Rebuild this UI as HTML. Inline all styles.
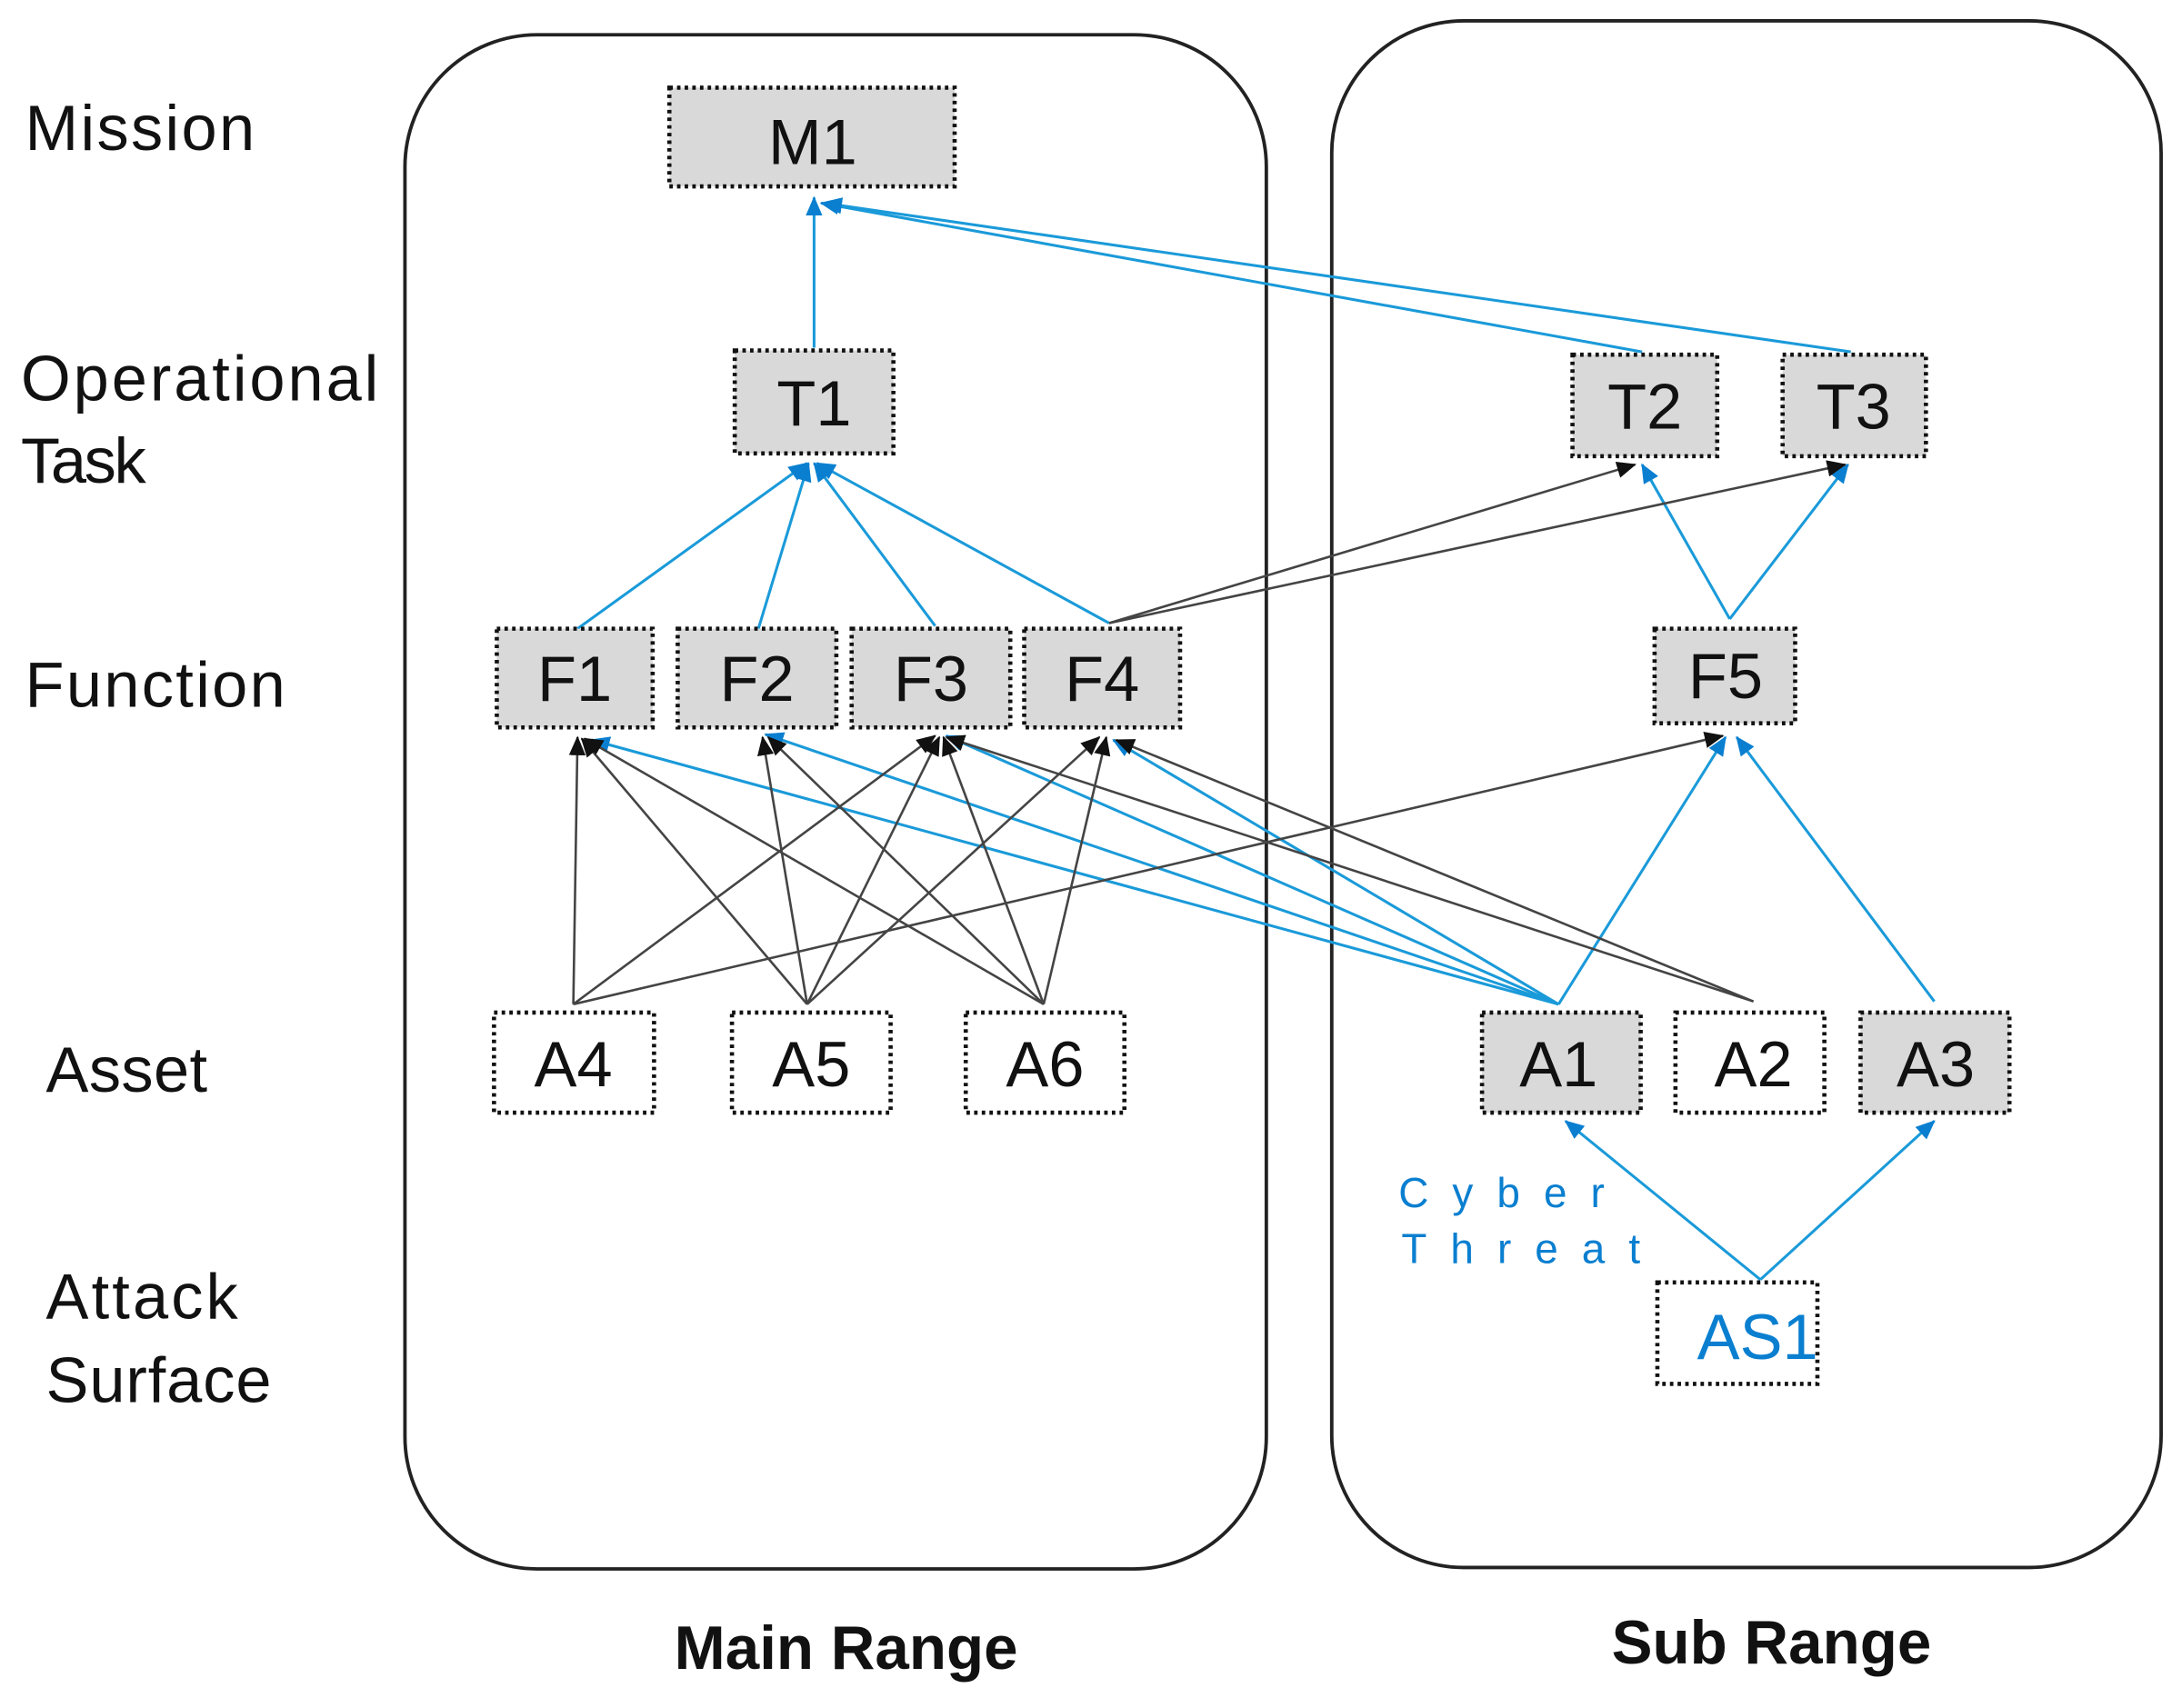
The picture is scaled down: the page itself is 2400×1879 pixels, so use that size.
<!DOCTYPE html>
<html><head><meta charset="utf-8"><style>
html,body{margin:0;padding:0;background:#fff;}
svg{display:block;}
text{font-family:"Liberation Sans","DejaVu Sans",sans-serif;}
</style></head><body>
<svg width="2400" height="1879" viewBox="0 0 1568 1228" preserveAspectRatio="none" xmlns="http://www.w3.org/2000/svg">
<defs>
<marker id="b" markerWidth="14" markerHeight="12" refX="13" refY="6" orient="auto" markerUnits="userSpaceOnUse"><path d="M0,0 L14,6 L0,12 z" fill="#0a7fd0"/></marker>
<marker id="k" markerWidth="14" markerHeight="12" refX="13" refY="6" orient="auto" markerUnits="userSpaceOnUse"><path d="M0,0 L14,6 L0,12 z" fill="#111"/></marker>
</defs>
<rect x="291" y="25" width="619" height="1103" rx="95" fill="none" stroke="#222" stroke-width="2.5"/>
<rect x="957" y="15" width="596" height="1112" rx="95" fill="none" stroke="#222" stroke-width="2.5"/>
<g font-size="46" fill="#111">
<text x="18" y="108" textLength="165">Mission</text>
<text x="15" y="288" textLength="257">Operational</text>
<text x="15" y="347" textLength="90">Task</text>
<text x="18" y="508" textLength="187">Function</text>
<text x="33" y="785" textLength="116">Asset</text>
<text x="33" y="948" textLength="138">Attack</text>
<text x="33" y="1008" textLength="162">Surface</text>
</g>
<g font-size="44" font-weight="bold" fill="#111" text-anchor="middle">
<text x="608" y="1200">Main Range</text>
<text x="1273" y="1196">Sub Range</text>
</g>
<g stroke="#1a9ad9" stroke-width="2" fill="none" marker-end="url(#b)">
<line x1="585" y1="250" x2="585" y2="142"/>
<line x1="1180" y1="253" x2="590" y2="146"/>
<line x1="1330" y1="253" x2="592" y2="146"/>
<line x1="415" y1="452" x2="580" y2="333"/>
<line x1="545" y1="452" x2="581" y2="333"/>
<line x1="672" y1="450" x2="585" y2="333"/>
<line x1="797" y1="448" x2="587" y2="333"/>
<line x1="1243" y1="445" x2="1180" y2="334"/>
<line x1="1243" y1="445" x2="1328" y2="334"/>
<line x1="1120" y1="722" x2="425" y2="532"/>
<line x1="1120" y1="722" x2="550" y2="528"/>
<line x1="1120" y1="722" x2="680" y2="529"/>
<line x1="1120" y1="722" x2="800" y2="532"/>
<line x1="1120" y1="722" x2="1240" y2="530"/>
<line x1="1390" y1="720" x2="1248" y2="530"/>
<line x1="1265" y1="920" x2="1125" y2="806"/>
<line x1="1265" y1="920" x2="1390" y2="806"/>
</g>
<g stroke="#444" stroke-width="1.7" fill="none" marker-end="url(#k)">
<line x1="797" y1="448" x2="1175" y2="334"/>
<line x1="797" y1="448" x2="1326" y2="334"/>
<line x1="412" y1="722" x2="415" y2="530"/>
<line x1="412" y1="722" x2="672" y2="529"/>
<line x1="412" y1="722" x2="1238" y2="529"/>
<line x1="580" y1="722" x2="418" y2="531"/>
<line x1="580" y1="722" x2="548" y2="530"/>
<line x1="580" y1="722" x2="675" y2="530"/>
<line x1="580" y1="722" x2="790" y2="530"/>
<line x1="750" y1="722" x2="420" y2="531"/>
<line x1="750" y1="722" x2="552" y2="530"/>
<line x1="750" y1="722" x2="678" y2="530"/>
<line x1="750" y1="722" x2="795" y2="530"/>
<line x1="1260" y1="720" x2="680" y2="530"/>
<line x1="1260" y1="720" x2="802" y2="532"/>
</g>
<g stroke="#111" stroke-width="3" stroke-dasharray="2.5,3">
<rect x="481" y="63" width="205" height="71" fill="#d9d9d9"/>
<rect x="528" y="252" width="114" height="74" fill="#d9d9d9"/>
<rect x="1130" y="255" width="104" height="73" fill="#d9d9d9"/>
<rect x="1281" y="255" width="103" height="73" fill="#d9d9d9"/>
<rect x="357" y="452" width="112" height="71" fill="#d9d9d9"/>
<rect x="487" y="452" width="114" height="71" fill="#d9d9d9"/>
<rect x="612" y="452" width="114" height="71" fill="#d9d9d9"/>
<rect x="736" y="452" width="112" height="71" fill="#d9d9d9"/>
<rect x="1189" y="452" width="101" height="68" fill="#d9d9d9"/>
<rect x="355" y="728" width="115" height="72" fill="#fff"/>
<rect x="526" y="728" width="114" height="72" fill="#fff"/>
<rect x="694" y="728" width="114" height="72" fill="#fff"/>
<rect x="1065" y="728" width="114" height="72" fill="#d9d9d9"/>
<rect x="1204" y="728" width="107" height="72" fill="#fff"/>
<rect x="1337" y="728" width="107" height="72" fill="#d9d9d9"/>
<rect x="1191" y="922" width="115" height="73" fill="#fff"/>
</g>
<g font-size="46" fill="#111" text-anchor="middle">
<text x="584" y="118">M1</text>
<text x="585" y="306">T1</text>
<text x="1182" y="308">T2</text>
<text x="1332" y="308">T3</text>
<text x="413" y="504">F1</text>
<text x="544" y="504">F2</text>
<text x="669" y="504">F3</text>
<text x="792" y="504">F4</text>
<text x="1240" y="502">F5</text>
<text x="412" y="781">A4</text>
<text x="583" y="781">A5</text>
<text x="751" y="781">A6</text>
<text x="1120" y="781">A1</text>
<text x="1260" y="781">A2</text>
<text x="1391" y="781">A3</text>
<text x="1263" y="977" fill="#0a7fd0">AS1</text>
</g>
<g font-size="30" fill="#0a7fd0" letter-spacing="17">
<text x="1005" y="868">Cyber</text>
<text x="1007" y="908">Threat</text>
</g>
</svg>
</body></html>
